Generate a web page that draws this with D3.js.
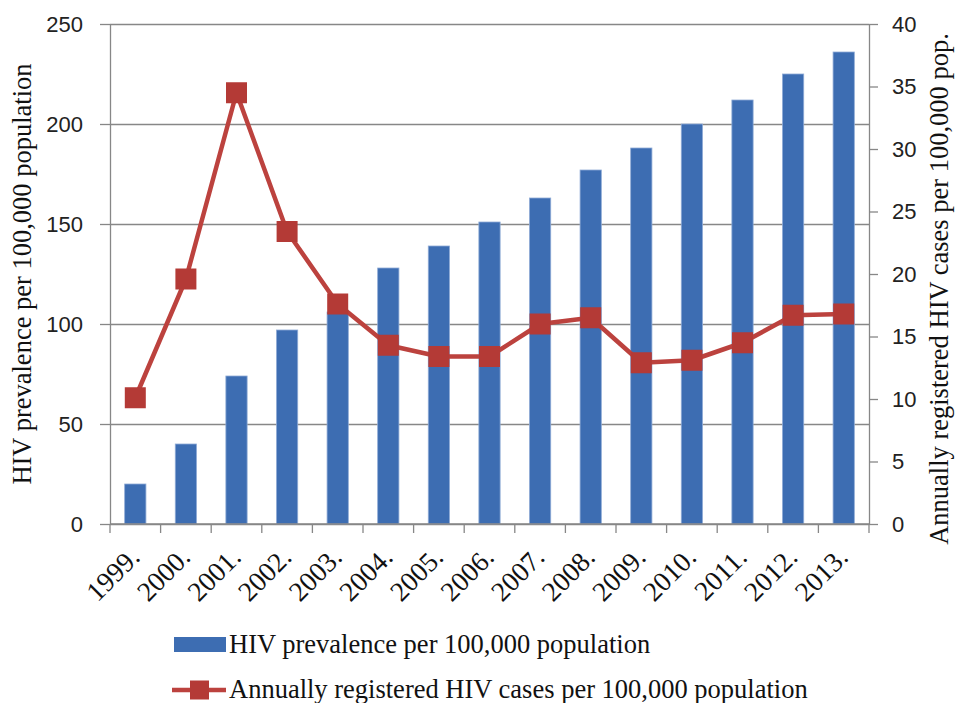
<!DOCTYPE html>
<html>
<head>
<meta charset="utf-8">
<script src="https://cdn.jsdelivr.net/npm/d3@7"></script>
<style>
  body { margin: 0; background: #fff; }
  svg { display: block; }
</style>
</head>
<body>
<div id="chart"></div>
<script>
// Data
const years = ["1999.", "2000.", "2001.", "2002.", "2003.", "2004.", "2005.", "2006.",
               "2007.", "2008.", "2009.", "2010.", "2011.", "2012.", "2013."];
const prevalence = [20, 40, 74, 97, 106, 128, 139, 151, 163, 177, 188, 200, 212, 225, 236];
const registered = [10.1, 19.6, 34.5, 23.4, 17.6, 14.3, 13.4, 13.4, 16.0, 16.5, 12.9, 13.1, 14.5, 16.7, 16.8];
const leftTicks = [0, 50, 100, 150, 200, 250];
const rightTicks = [0, 5, 10, 15, 20, 25, 30, 35, 40];
const barLabel = "HIV prevalence per 100,000 population";
const lineLabel = "Annually registered HIV cases per 100,000 population";
const rightTitle = "Annually registered HIV cases per 100,000 pop.";

// Layout
const width = 957, height = 703;
const plot = {left: 110, right: 869, top: 24, bottom: 524};
const barColor = "#3d6db2";
const lineColor = "#bc423e";
const markerColor = "#b43a36";
const axisColor = "#878787";
const serif = "'Liberation Serif', 'Times New Roman', serif";
const sans = "'Liberation Sans', Arial, sans-serif";

const svg = d3.select("#chart").append("svg")
  .attr("width", width)
  .attr("height", height);

// Scales
const x = d3.scaleBand()
  .domain(years)
  .range([plot.left, plot.right])
  .paddingInner(0.58)
  .paddingOuter(0.29);

const yLeft = d3.scaleLinear().domain([0, 250]).range([plot.bottom, plot.top]);
const yRight = d3.scaleLinear().domain([0, 40]).range([plot.bottom, plot.top]);

// Gridlines
svg.append("g")
  .attr("transform", `translate(${plot.left},0)`)
  .call(d3.axisLeft(yLeft).tickValues(leftTicks).tickSize(-(plot.right - plot.left)).tickFormat(""))
  .call(g => g.select(".domain").remove())
  .call(g => g.selectAll("line").attr("stroke", axisColor).attr("stroke-width", 1.3));

// Bars
svg.append("g").selectAll("rect").data(prevalence).join("rect")
  .attr("x", (d, i) => x(years[i]))
  .attr("y", d => yLeft(d))
  .attr("width", x.bandwidth())
  .attr("height", d => yLeft(0) - yLeft(d))
  .attr("fill", barColor)
  .attr("stroke", "#8fabd6")
  .attr("stroke-width", 0.8);

// Left axis
svg.append("g")
  .attr("transform", `translate(${plot.left},0)`)
  .call(d3.axisLeft(yLeft).tickValues(leftTicks).tickSize(10).tickSizeOuter(0).tickPadding(17))
  .call(g => g.select(".domain").attr("stroke", axisColor).attr("stroke-width", 1.3))
  .call(g => g.selectAll(".tick line").attr("stroke", axisColor).attr("stroke-width", 1.3))
  .call(g => g.selectAll("text").attr("font-family", sans).attr("font-size", 22).attr("fill", "#222"));

// Right axis
svg.append("g")
  .attr("transform", `translate(${plot.right},0)`)
  .call(d3.axisRight(yRight).tickValues(rightTicks).tickSize(9).tickSizeOuter(0).tickPadding(14))
  .call(g => g.select(".domain").attr("stroke", axisColor).attr("stroke-width", 1.3))
  .call(g => g.selectAll(".tick line").attr("stroke", axisColor).attr("stroke-width", 1.3))
  .call(g => g.selectAll("text").attr("font-family", sans).attr("font-size", 22).attr("fill", "#222"));

// Bottom axis: line, ticks at category boundaries, rotated labels
const bottom = svg.append("g");
bottom.append("line")
  .attr("x1", plot.left).attr("x2", plot.right)
  .attr("y1", plot.bottom).attr("y2", plot.bottom)
  .attr("stroke", axisColor).attr("stroke-width", 1.3);

const bounds = years.map((d, i) => x.range()[0] + i * x.step()).concat([x.range()[1]]);
bottom.selectAll("line.tick").data(bounds).join("line")
  .attr("class", "tick")
  .attr("x1", d => d).attr("x2", d => d)
  .attr("y1", plot.bottom).attr("y2", plot.bottom + 9)
  .attr("stroke", axisColor).attr("stroke-width", 1.3);

bottom.selectAll("text").data(years).join("text")
  .attr("transform", d => `translate(${x(d) + x.bandwidth() / 2 + 6},${plot.bottom + 35}) rotate(-45)`)
  .attr("text-anchor", "end")
  .attr("font-family", serif)
  .attr("font-size", 27.5)
  .attr("fill", "#111")
  .text(d => d);

// Line + markers
const line = d3.line()
  .x((d, i) => x(years[i]) + x.bandwidth() / 2)
  .y(d => yRight(d));

svg.append("path")
  .datum(registered)
  .attr("d", line)
  .attr("fill", "none")
  .attr("stroke", lineColor)
  .attr("stroke-width", 4.5)
  .attr("stroke-linejoin", "round");

const mk = 21;
svg.append("g").selectAll("rect").data(registered).join("rect")
  .attr("x", (d, i) => x(years[i]) + x.bandwidth() / 2 - mk / 2)
  .attr("y", d => yRight(d) - mk / 2)
  .attr("width", mk)
  .attr("height", mk)
  .attr("fill", markerColor);

// Axis titles
svg.append("text")
  .attr("transform", `translate(31,${(plot.top + plot.bottom) / 2}) rotate(-90)`)
  .attr("text-anchor", "middle")
  .attr("font-family", serif)
  .attr("font-size", 26.5)
  .attr("fill", "#111")
  .text(barLabel);

svg.append("text")
  .attr("transform", `translate(948,289) rotate(-90)`)
  .attr("text-anchor", "middle")
  .attr("font-family", serif)
  .attr("font-size", 26.5)
  .attr("fill", "#111")
  .text(rightTitle);

// Legend
const legend = svg.append("g");
legend.append("rect")
  .attr("x", 174).attr("y", 637)
  .attr("width", 52).attr("height", 15)
  .attr("fill", barColor);
legend.append("text")
  .attr("x", 229).attr("y", 653)
  .attr("font-family", serif)
  .attr("font-size", 26.5)
  .attr("fill", "#111")
  .text(barLabel);

legend.append("line")
  .attr("x1", 172).attr("x2", 226)
  .attr("y1", 690).attr("y2", 690)
  .attr("stroke", lineColor)
  .attr("stroke-width", 4.5);
legend.append("rect")
  .attr("x", 190).attr("y", 680.5)
  .attr("width", 19).attr("height", 19)
  .attr("fill", markerColor);
legend.append("text")
  .attr("x", 229).attr("y", 698)
  .attr("font-family", serif)
  .attr("font-size", 26.5)
  .attr("fill", "#111")
  .text(lineLabel);
</script>
</body>
</html>
